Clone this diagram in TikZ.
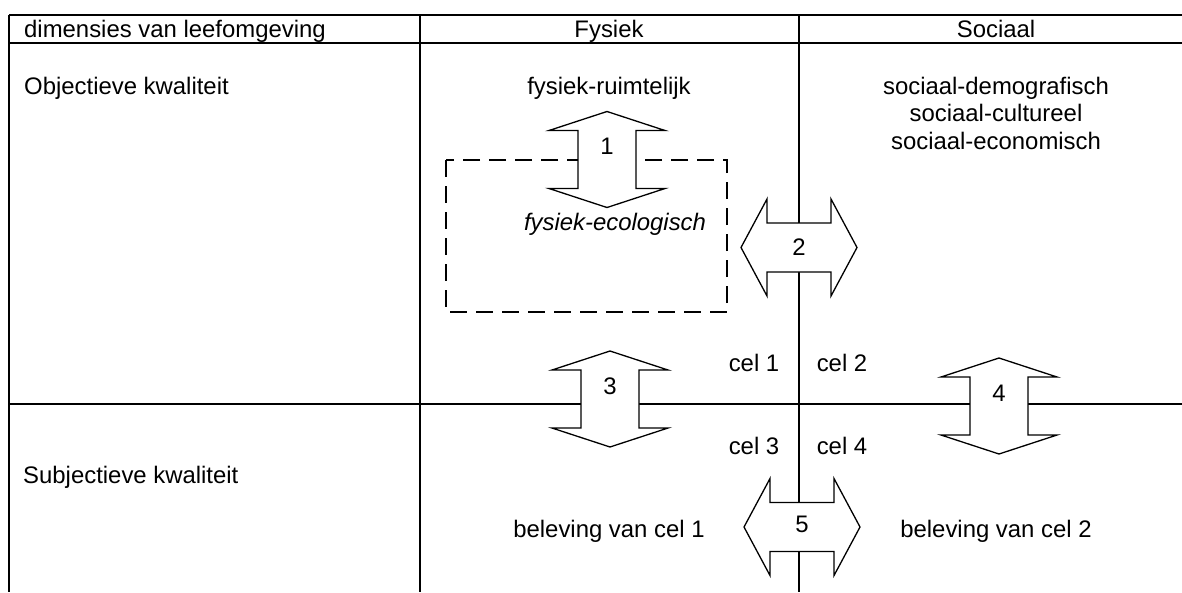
\documentclass[tikz,border=0pt]{standalone}
\usepackage{fontspec}
\setmainfont{Liberation Sans}
\begin{document}
\begin{tikzpicture}[x=1pt,y=-1pt,
  grid/.style={line width=1.8pt},
  dashbox/.style={line width=1.3pt,dash pattern=on 17pt off 9pt},
  arrowshape/.style={line width=1.3pt,fill=white,draw=black},
  txt/.style={inner sep=0pt,font=\fontsize{23.9pt}{27.3pt}\selectfont,anchor=base},
  vdarrow/.pic={\draw[arrowshape] (0,-48) -- (58,-29) -- (29,-29) -- (29,29) -- (58,29) -- (0,48) -- (-58,29) -- (-29,29) -- (-29,-29) -- (-58,-29) -- cycle;},
  hdarrow/.pic={\draw[arrowshape] (-58,0) -- (-32,-48.5) -- (-32,-24.5) -- (32,-24.5) -- (32,-48.5) -- (58,0) -- (32,48.5) -- (32,24.5) -- (-32,24.5) -- (-32,48.5) -- cycle;}
]
\useasboundingbox[fill=white] (0,0) rectangle (1182,592);
% table
\coordinate (tl) at (9,15);
\coordinate (tr) at (1182,15);
\coordinate (hl) at (9,43);
\coordinate (hr) at (1182,43);
\coordinate (ml) at (9,404);
\coordinate (mr) at (1182,404);
\coordinate (bl) at (9,592);
\coordinate (d1t) at (420,15);
\coordinate (d1b) at (420,592);
\coordinate (d2t) at (799,15);
\coordinate (d2b) at (799,592);
\draw[grid] (tl) -- (tr);
\draw[grid] (hl) -- (hr);
\draw[grid] (ml) -- (mr);
\draw[grid] (tl) -- (bl);
\draw[grid] (d1t) -- (d1b);
\draw[grid] (d2t) -- (d2b);
% dashed box
\draw[dashbox] (446,160) rectangle (727,312);
% arrows
\pic at (607,159.5) {vdarrow};
\pic at (799,247.5) {hdarrow};
\pic at (610,399) {vdarrow};
\pic at (999,406) {vdarrow};
\pic at (802,527) {hdarrow};
% texts
\node[txt,anchor=base west] (dim) at (24,37) {dimensies van leefomgeving};
\node[txt] (fys) at (609,37) {Fysiek};
\node[txt] (soc) at (996,37) {Sociaal};
\node[txt,anchor=base west] (obj) at (24,94) {Objectieve kwaliteit};
\node[txt] (fr) at (609,94) {fysiek-ruimtelijk};
\node[txt] (sd) at (996,94) {sociaal-demografisch};
\node[txt] (sc) at (996,121) {sociaal-cultureel};
\node[txt] (se) at (996,149) {sociaal-economisch};
\node[txt,font=\fontsize{23.9pt}{27.3pt}\selectfont\itshape] (fe) at (615,230) {fysiek-ecologisch};
\node[txt,anchor=base west] (subj) at (23,483) {Subjectieve kwaliteit};
\node[txt] (c1) at (754,371) {cel 1};
\node[txt] (c2) at (842,371) {cel 2};
\node[txt] (c3) at (754,454) {cel 3};
\node[txt] (c4) at (842,454) {cel 4};
\node[txt] (b1) at (609,537) {beleving van cel 1};
\node[txt] (b2) at (996,537) {beleving van cel 2};
\node[txt] (n1) at (607,154) {1};
\node[txt] (n2) at (799,255) {2};
\node[txt] (n3) at (610,394) {3};
\node[txt] (n4) at (999,401) {4};
\node[txt] (n5) at (802,532) {5};
\end{tikzpicture}
\end{document}
